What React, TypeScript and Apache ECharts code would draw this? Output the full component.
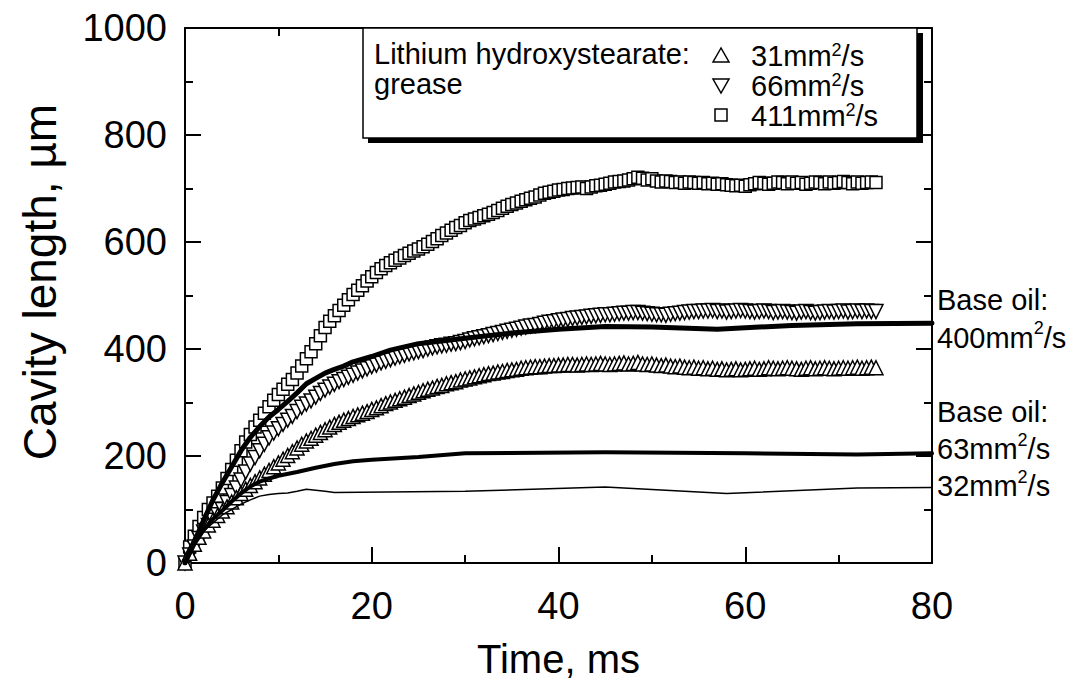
import React, { useEffect, useRef } from "react";
import * as echarts from "echarts";

// ---- Data ----
const SAMPLE_STEP_MS = 0.5; // grease data sampled every 0.5 ms, from 0 ms

const grease31: number[] = [
  0, 18, 35, 48, 60, 71, 80, 89, 97, 105, 114, 122, 130, 138, 145, 152, 159, 166, 173, 180,
  187, 194, 201, 208, 215, 222, 228, 233, 239, 244, 249, 254, 259, 263, 267, 270, 274, 277, 280, 283,
  287, 290, 294, 298, 301, 304, 307, 310, 313, 316, 319, 322, 325, 327, 330, 332, 335, 337, 339, 342,
  344, 346, 348, 350, 352, 354, 355, 357, 358, 360, 361, 362, 364, 365, 366, 367, 367, 368, 369, 369,
  370, 370, 371, 371, 370, 371, 372, 371, 372, 373, 372, 371, 372, 373, 374, 372, 373, 375, 372, 371,
  372, 370, 369, 370, 368, 367, 368, 366, 365, 366, 364, 365, 363, 364, 362, 363, 361, 362, 363, 361,
  362, 363, 364, 362, 363, 365, 364, 363, 364, 365, 364, 363, 362, 364, 365, 363, 364, 365, 364, 363,
  364, 365, 364, 365, 366, 364, 365, 366, 365,
];

const grease66: number[] = [
  0, 15, 30, 46, 58, 70, 80, 90, 100, 113, 126, 140, 155, 170, 185, 197, 210, 222, 234, 243,
  251, 259, 267, 274, 283, 291, 297, 303, 310, 317, 323, 329, 334, 339, 343, 347, 351, 355, 359, 363,
  367, 370, 374, 377, 380, 383, 386, 388, 391, 393, 395, 397, 400, 402, 404, 406, 407, 409, 410, 412,
  414, 417, 419, 421, 423, 425, 427, 429, 431, 433, 435, 437, 439, 441, 443, 444, 446, 448, 450, 451,
  453, 454, 455, 457, 458, 459, 460, 461, 462, 463, 464, 464, 465, 466, 467, 467, 468, 468, 467, 466,
  465, 464, 464, 463, 465, 466, 467, 468, 469, 470, 470, 471, 471, 472, 470, 471, 469, 470, 471, 472,
  471, 470, 469, 470, 471, 470, 468, 469, 470, 469, 468, 467, 469, 470, 468, 467, 468, 469, 470, 469,
  470, 471, 469, 470, 471, 470, 471, 470, 470,
];

const grease411: number[] = [
  0, 30, 50, 68, 85, 100, 112, 125, 140, 158, 175, 192, 210, 226, 240, 254, 267, 280, 292, 304,
  315, 325, 334, 343, 355, 368, 382, 395, 410, 425, 440, 452, 462, 472, 482, 492, 502, 510, 518, 527,
  535, 543, 550, 556, 561, 566, 570, 575, 579, 583, 587, 591, 596, 601, 606, 612, 617, 622, 627, 631,
  636, 640, 643, 646, 649, 652, 655, 659, 663, 667, 670, 673, 676, 679, 682, 684, 688, 691, 693, 695,
  697, 698, 700, 701, 702, 703, 700, 703, 705, 706, 708, 710, 712, 713, 714, 716, 718, 721, 719, 716,
  718, 714, 712, 714, 713, 711, 712, 710, 712, 711, 710, 711, 709, 710, 708, 709, 707, 706, 705, 706,
  704, 707, 709, 711, 710, 708, 710, 712, 711, 709, 712, 710, 711, 708, 710, 712, 711, 709, 712, 710,
  711, 713, 711, 709, 712, 710, 711, 712, 711,
];

// base oil curves: [time ms, cavity length µm]
const baseOil400: [number, number][] = [
  [0, 0], [1, 40], [2, 80], [3, 118], [4, 150], [5, 180], [6, 210], [7, 235], [8, 255], [9, 273],
  [10, 287], [11, 302], [12, 318], [13, 335], [14, 345], [15, 355], [16, 362], [17, 368], [18, 376],
  [20, 386], [22, 398], [25, 410], [30, 420], [35, 430], [40, 437], [45, 442], [50, 441], [57, 437],
  [65, 444], [72, 447], [80, 448],
];
const baseOil63: [number, number][] = [
  [0, 0], [1, 35], [2, 62], [3, 82], [4, 98], [5, 115], [6, 130], [7, 143], [8, 152], [9, 158],
  [10, 163], [12, 170], [14, 178], [16, 185], [18, 190], [20, 193], [25, 198], [30, 205], [45, 207],
  [60, 205], [72, 203], [80, 205],
];
const baseOil32: [number, number][] = [
  [0, 0], [1, 35], [2, 60], [3, 75], [4, 90], [5, 100], [6, 110], [7, 118], [8, 125], [9, 128],
  [10, 130], [11, 131], [12, 134], [13, 138], [14, 136], [15, 134], [16, 132], [30, 134], [45, 142],
  [58, 130], [72, 140], [80, 141],
];

const xTicks = { min: 0, max: 80, interval: 20 };
const yTicks = { min: 0, max: 1000, interval: 200 };

const greaseNames = ["31mm²/s", "66mm²/s", "411mm²/s"];

const toPairs = (vals: number[]) => vals.map((v, i) => [i * SAMPLE_STEP_MS, v]);

const FONT = "'Liberation Sans', Arial, sans-serif";
const ANN_SIZE = 29;

// rich styles for a block whose lines are L px apart; "sup" raises the "2"
const richFor = (L: number) => ({
  a: { fontFamily: FONT, fontSize: ANN_SIZE, lineHeight: L, color: "#000" },
  sup: {
    fontFamily: FONT, fontSize: 18, lineHeight: 12, color: "#000",
    verticalAlign: "top", padding: [0, 0, L - 12, 0],
  },
});
// "31mm²/s" -> rich markup
const supLine = (s: string) => {
  const m = s.match(/^(.*)²(.*)$/);
  return m ? `{a|${m[1]}}{sup|2}{a|${m[2]}}` : `{a|${s}}`;
};
function block(x: number, firstCenterY: number, L: number, lines: string[]) {
  return {
    type: "text", x, y: firstCenterY - L / 2, z: 12,
    style: {
      text: lines.map(supLine).join("\n"),
      rich: richFor(L),
      verticalAlign: "top",
      align: "left",
      font: `${ANN_SIZE}px ${FONT}`,
    },
  };
}

export default function App() {
  const ref = useRef<HTMLDivElement>(null);
  useEffect(() => {
    if (!ref.current) return;
    const chart = echarts.init(ref.current, null, { renderer: "svg" });
    const axisCommon = {
      axisLine: { show: true, onZero: false, lineStyle: { color: "#000", width: 2 } },
      axisTick: { show: true, inside: true, length: 16, lineStyle: { color: "#000", width: 2 } },
      minorTick: { show: true, splitNumber: 2, length: 8, lineStyle: { color: "#000", width: 2 } },
      splitLine: { show: false },
    };
    const markerStyle = { color: "#fff", borderColor: "#000", borderWidth: 1.5 };
    const option: any = {
      animation: false,
      backgroundColor: "#fff",
      grid: { left: 185, right: 147, top: 28, bottom: 137 },
      xAxis: [
        {
          type: "value", ...xTicks, ...axisCommon,
          name: "Time, ms", nameLocation: "middle", nameGap: 76,
          nameTextStyle: { fontFamily: FONT, fontSize: 40, color: "#000" },
          axisLabel: { fontFamily: FONT, fontSize: 38, color: "#000", margin: 24, formatter: (v: number) => String(v) },
        },
        { type: "value", position: "top", ...xTicks, ...axisCommon, axisLabel: { show: false } },
      ],
      yAxis: [
        {
          type: "value", ...yTicks, ...axisCommon,
          axisLabel: { fontFamily: FONT, fontSize: 38, color: "#000", margin: 18, formatter: (v: number) => String(v) },
        },
        { type: "value", position: "right", ...yTicks, ...axisCommon, axisLabel: { show: false } },
      ],
      graphic: [
        { type: "rect", shape: { x: 368, y: 33, width: 555, height: 110 }, style: { fill: "#000" }, z: 10 },
        { type: "rect", shape: { x: 363, y: 28, width: 554, height: 110 }, style: { fill: "#fff", stroke: "#000", lineWidth: 1.5 }, z: 11 },
        block(374, 54, 30, ["Lithium hydroxystearate:", "grease"]),
        // legend keys
        { type: "polygon", z: 12, shape: { points: [[721, 48], [713, 62], [729, 62]] }, style: { fill: "#fff", stroke: "#000", lineWidth: 1.5 } },
        { type: "polygon", z: 12, shape: { points: [[713, 79], [729, 79], [721, 93]] }, style: { fill: "#fff", stroke: "#000", lineWidth: 1.5 } },
        { type: "rect", z: 12, shape: { x: 715, y: 109, width: 12, height: 12 }, style: { fill: "#fff", stroke: "#000", lineWidth: 1.5 } },
        block(751, 56, 30, greaseNames),
        // base oil labels
        block(937, 300, 38, ["Base oil:", "400mm²/s"]),
        block(937, 412, 37, ["Base oil:", "63mm²/s", "32mm²/s"]),
        // y axis title
        {
          type: "text", x: 40, y: 282, rotation: Math.PI / 2, z: 12,
          style: { text: "Cavity length, µm", font: `46px ${FONT}`, fill: "#000", align: "center", verticalAlign: "middle" },
        },
      ],
      series: [
        {
          name: greaseNames[2], type: "line", data: toPairs(grease411), symbol: "rect", symbolSize: 12,
          showAllSymbol: true, lineStyle: { width: 0, opacity: 0 }, itemStyle: markerStyle, z: 2,
        },
        {
          name: greaseNames[1], type: "line", data: toPairs(grease66), symbol: "triangle", symbolRotate: 180,
          symbolSize: 14, showAllSymbol: true, lineStyle: { width: 0, opacity: 0 }, itemStyle: markerStyle, z: 3,
        },
        {
          name: greaseNames[0], type: "line", data: toPairs(grease31), symbol: "triangle",
          symbolSize: 14, showAllSymbol: true, lineStyle: { width: 0, opacity: 0 }, itemStyle: markerStyle, z: 4,
        },
        {
          name: "Base oil 400mm²/s", type: "line", data: baseOil400, showSymbol: false, z: 5,
          lineStyle: { color: "#000", width: 5, cap: "round", join: "round" },
        },
        {
          name: "Base oil 63mm²/s", type: "line", data: baseOil63, showSymbol: false, z: 5,
          lineStyle: { color: "#000", width: 4, cap: "round", join: "round" },
        },
        {
          name: "Base oil 32mm²/s", type: "line", data: baseOil32, showSymbol: false, z: 5,
          lineStyle: { color: "#000", width: 1.5 },
        },
      ],
    };
    chart.setOption(option);
    return () => chart.dispose();
  }, []);
  return (
    <div
      ref={ref}
      style={{ position: "fixed", left: 0, top: 0, width: 1079, height: 700, background: "#fff" }}
    />
  );
}
